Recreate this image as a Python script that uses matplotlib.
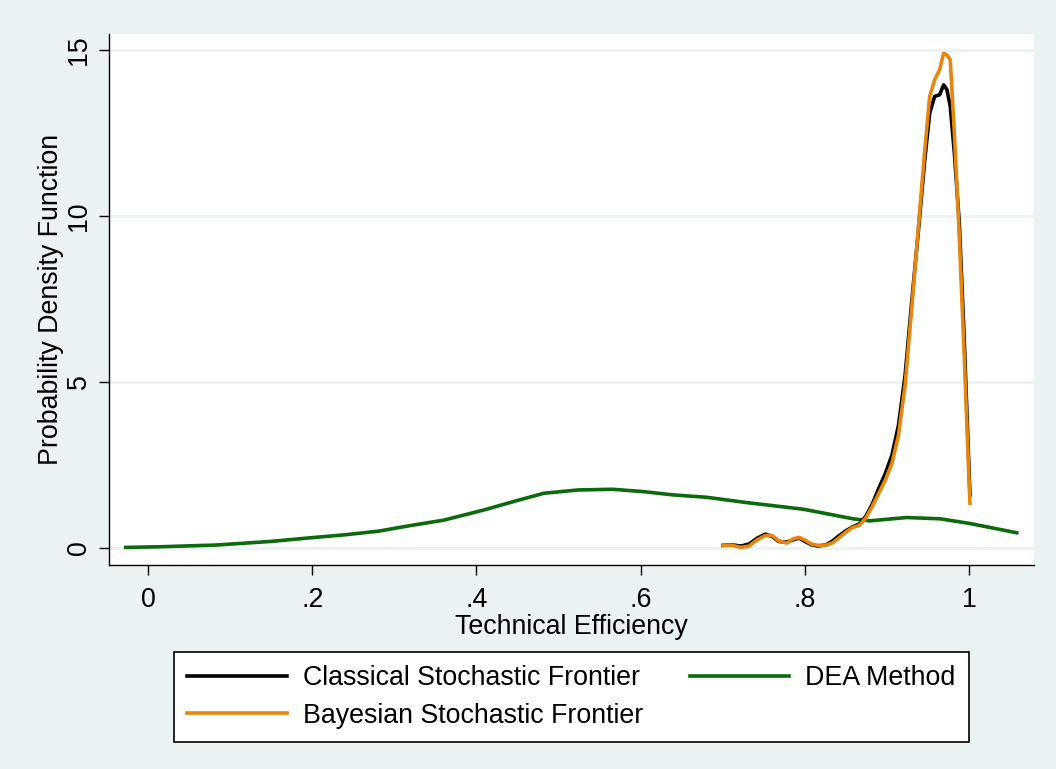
import matplotlib
matplotlib.use("Agg")
import matplotlib.pyplot as plt

# kernel density estimates
x_sf = [0.700, 0.710, 0.722, 0.732, 0.742, 0.752, 0.760, 0.768, 0.778, 0.786,
        0.793, 0.800, 0.808, 0.816, 0.826, 0.834, 0.842, 0.850, 0.858, 0.866,
        0.874, 0.882, 0.890, 0.898, 0.906, 0.914, 0.922, 0.930, 0.938, 0.946,
        0.952, 0.958, 0.964, 0.969, 0.973, 0.977, 0.982, 0.988, 0.994, 1.001]
classical = [0.08, 0.10, 0.06, 0.12, 0.30, 0.42, 0.35, 0.20, 0.18, 0.25,
             0.30, 0.20, 0.10, 0.06, 0.10, 0.22, 0.38, 0.52, 0.64, 0.72,
             0.95, 1.32, 1.80, 2.25, 2.80, 3.70, 5.20, 7.40, 9.50, 11.7,
             13.1, 13.6, 13.65, 13.95, 13.8, 13.3, 11.9, 9.8, 6.3, 1.6]
bayesian = [0.08, 0.09, 0.02, 0.06, 0.25, 0.38, 0.38, 0.22, 0.15, 0.28,
            0.32, 0.24, 0.12, 0.08, 0.09, 0.16, 0.32, 0.48, 0.62, 0.68,
            0.90, 1.25, 1.65, 2.05, 2.55, 3.40, 4.90, 7.20, 9.60, 12.0,
            13.6, 14.1, 14.4, 14.9, 14.85, 14.7, 12.5, 9.4, 5.8, 1.35]

x_dea = [-0.027, 0.016, 0.082, 0.150, 0.198, 0.240, 0.281, 0.320, 0.360, 0.408,
         0.445, 0.482, 0.524, 0.566, 0.603, 0.640, 0.680, 0.729, 0.798, 0.859,
         0.879, 0.924, 0.965, 1.001, 1.058]
dea = [0.02, 0.04, 0.09, 0.20, 0.31, 0.40, 0.51, 0.68, 0.84, 1.14,
       1.40, 1.65, 1.75, 1.77, 1.70, 1.60, 1.53, 1.37, 1.17, 0.88,
       0.82, 0.92, 0.88, 0.74, 0.46]

x_ticks = [0, 0.2, 0.4, 0.6, 0.8, 1.0]
x_ticklabels = ["0", ".2", ".4", ".6", ".8", "1"]
y_ticks = [0, 5, 10, 15]

BG = "#EAF2F3"
FS = 19.3

plt.rcParams["font.family"] = ["Liberation Sans", "DejaVu Sans"]

fig = plt.figure(figsize=(10.56, 7.69), dpi=100, facecolor=BG)
ax = fig.add_axes([109 / 1056, 1 - 565 / 769, 925 / 1056, 531 / 769])
ax.set_facecolor("white")

for v in y_ticks:
    ax.axhline(v, color=BG, linewidth=2.0, zorder=1)

l1, = ax.plot(x_sf, classical, color="black", linewidth=2.6, zorder=3,
              label="Classical Stochastic Frontier")
l3, = ax.plot(x_dea, dea, color="#0B6A0B", linewidth=2.6, zorder=2,
              label="DEA Method")
l2, = ax.plot(x_sf, bayesian, color="#E8850C", linewidth=2.6, zorder=4,
              label="Bayesian Stochastic Frontier")

ax.set_xlim(-0.0475, 1.079)
ax.set_ylim(-0.51, 15.48)

for side in ["top", "right"]:
    ax.spines[side].set_visible(False)
for side in ["left", "bottom"]:
    ax.spines[side].set_color("black")
    ax.spines[side].set_linewidth(1.0)

ax.set_xticks(x_ticks)
ax.set_xticklabels(x_ticklabels)
ax.set_yticks(y_ticks)
ax.set_yticklabels([str(v) for v in y_ticks], rotation=90, va="center")
ax.tick_params(axis="both", direction="out", length=7.5, width=1.0,
               labelsize=FS, color="black")
ax.tick_params(axis="x", pad=8)
ax.tick_params(axis="y", pad=5)

ax.set_xlabel("Technical Efficiency", fontsize=FS, labelpad=1)
ax.set_ylabel("Probability Density Function", fontsize=FS, labelpad=1)

leg = fig.legend(handles=[l1, l2, l3], ncol=2, loc="upper left",
                 bbox_to_anchor=(174 / 1056, 1 - 652 / 769),
                 fontsize=FS, frameon=True, fancybox=False, shadow=False,
                 handlelength=3.7, handletextpad=0.6, columnspacing=1.75,
                 borderpad=0.5, labelspacing=0.42, borderaxespad=0)
leg.get_frame().set_edgecolor("black")
leg.get_frame().set_linewidth(1.2)
leg.get_frame().set_facecolor("white")
leg.get_frame().set_alpha(1.0)

fig.savefig("out.png", dpi=100, facecolor=BG)
